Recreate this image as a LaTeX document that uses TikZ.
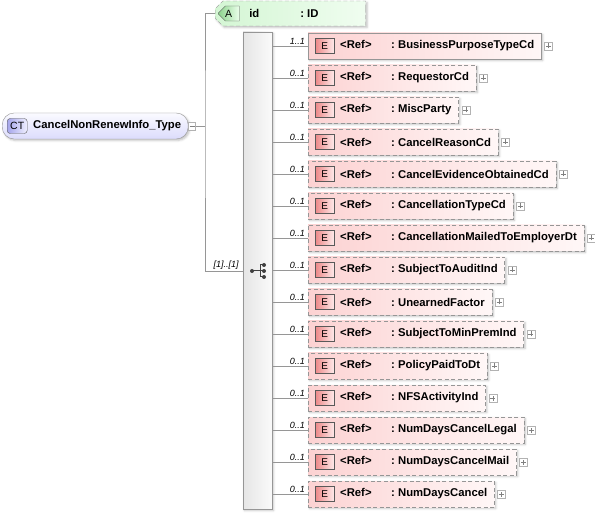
\documentclass[tikz,border=0pt]{standalone}
\usepackage{fontspec}
\setmainfont{Liberation Sans}
\usetikzlibrary{positioning,shapes.misc,shadows.blur}
\definecolor{elemleft}{RGB}{252,210,210}
\definecolor{elemright}{RGB}{255,247,247}
\definecolor{badgered}{RGB}{236,136,136}
\definecolor{attrleft}{RGB}{212,246,212}
\definecolor{attrright}{RGB}{240,253,240}
\definecolor{badgegreen}{RGB}{140,210,140}
\definecolor{ctleft}{RGB}{220,220,252}
\definecolor{ctright}{RGB}{250,250,255}
\definecolor{badgeblue}{RGB}{165,165,235}
\definecolor{linegray}{RGB}{150,150,150}
\tikzset{
  boxshadow/.style={blur shadow={shadow xshift=1.5pt,shadow yshift=-1.5pt,shadow blur steps=4,shadow opacity=25}},
  dashbox/.style={dash pattern=on 4pt off 2.5pt},
  elembox/.style={draw=linegray,left color=elemleft,right color=elemright,minimum height=26pt,inner sep=0pt,anchor=west,font=\fontsize{11.3}{13}\selectfont\bfseries,boxshadow},
  ebadge/.style={draw=black!65,left color=badgered,right color=red!8,minimum width=19pt,minimum height=15pt,inner sep=0pt,font=\fontsize{10}{12}\selectfont},
  plusbox/.style={draw=gray!60,fill=white,minimum size=8pt,inner sep=0pt,
    path picture={\draw[gray] ([xshift=-2.5pt]path picture bounding box.center) -- ([xshift=2.5pt]path picture bounding box.center)
      ([yshift=-2.5pt]path picture bounding box.center) -- ([yshift=2.5pt]path picture bounding box.center);}},
  minusbox/.style={draw=gray!60,fill=white,minimum width=7pt,minimum height=8pt,inner sep=0pt,
    path picture={\draw[gray] ([xshift=-2.5pt]path picture bounding box.center) -- ([xshift=2.5pt]path picture bounding box.center);}},
  card/.style={font=\fontsize{9}{10}\selectfont\itshape,inner sep=1pt},
  conn/.style={draw=linegray,line width=0.8pt},
  ctbox/.style={draw=linegray,top color=ctright,bottom color=ctleft,rounded corners=12pt,minimum height=26pt,inner sep=0pt,anchor=west,font=\fontsize{11.3}{13}\selectfont\bfseries,boxshadow},
  ctbadge/.style={draw=black!65,left color=badgeblue,right color=blue!6,rounded corners=3pt,minimum width=20pt,minimum height=15pt,inner sep=0pt,font=\fontsize{10.5}{12}\selectfont},
  attrbox/.style={chamfered rectangle,chamfered rectangle corners={north west,south west},chamfered rectangle xsep=7pt,
    draw=linegray,dashbox,left color=attrleft,right color=attrright,minimum height=25pt,inner sep=0pt,anchor=west,font=\fontsize{11.3}{13}\selectfont\bfseries,boxshadow},
  abadge/.style={chamfered rectangle,chamfered rectangle corners={north west,south west},chamfered rectangle xsep=4pt,
    draw=black!65,left color=badgegreen,right color=green!8,minimum width=21pt,minimum height=15pt,inner sep=0pt,font=\fontsize{10.5}{12}\selectfont},
  seqbar/.style={draw=linegray,left color=gray!20,right color=gray!4,minimum width=29pt,minimum height=477pt,inner sep=0pt,boxshadow}
}
\begin{document}
\begin{tikzpicture}[x=1pt,y=-1pt]
\useasboundingbox (0,0) rectangle (595,513);

%Complex type
\node [ctbox] (ct) at (2,126) {\hspace*{31pt}CancelNonRenewInfo\_Type\hspace*{7pt}};
\node [ctbadge,right=5pt of ct.west] {CT};
\node [minusbox,right=0pt of ct.east] (minus) {};
\coordinate (fork) at (205,126);

%Attribute
\node [attrbox] (attr) at (215,13.5) {\hspace*{30pt}\makebox[51pt][l]{id}:\ ID\hspace*{43pt}};
\node [abadge,right=3pt of attr.west] {A};

%Sequence
\node [seqbar] (seq) at (257.5,270.5) {};
\coordinate (seqicon) at (252,271);
\coordinate (seqin) at (seq.west |- seqicon);
\fill [black!75] (seqicon) circle (2pt);
\draw [black!75,line width=1pt] (seqicon) -- (260,271) (260,265) -- (260,277) (260,265) -- (264,265) (260,277) -- (264,277) (260,271) -- (264,271);
\foreach \y in {265,271,277}
	\fill [black!75] (264,\y) circle (2pt);

%Flow lines
\draw [conn] (minus.east) -- (fork);
\draw [conn] (attr.west) -| (fork) |- (seqin);
\node [card,above left=0pt and 3pt of seqin] {[1]..[1]};

%Elements
\foreach \i/\card/\bord/\ename in {0/1..1/solid/BusinessPurposeTypeCd,1/0..1/dashbox/RequestorCd,2/0..1/dashbox/MiscParty,
	3/0..1/dashbox/CancelReasonCd,4/0..1/dashbox/CancelEvidenceObtainedCd,5/0..1/dashbox/CancellationTypeCd,
	6/0..1/dashbox/CancellationMailedToEmployerDt,7/0..1/dashbox/SubjectToAuditInd,8/0..1/dashbox/UnearnedFactor,
	9/0..1/dashbox/SubjectToMinPremInd,10/0..1/dashbox/PolicyPaidToDt,11/0..1/dashbox/NFSActivityInd,
	12/0..1/dashbox/NumDaysCancelLegal,13/0..1/dashbox/NumDaysCancelMail,14/0..1/dashbox/NumDaysCancel}{
	\node [elembox,\bord] (e\i) at (308,46+32*\i) {\hspace*{32pt}\makebox[51pt][l]{<Ref>}:\ \ename\hspace*{7pt}};
	\node [ebadge,right=7pt of e\i.west] {E};
	\node [plusbox,right=3pt of e\i.east] {};
	\node [card,above left=0pt and 2pt of e\i.west] {\card};
	\draw [conn] (seq.east |- e\i.west) -- (e\i.west);
}
\end{tikzpicture}
\end{document}
